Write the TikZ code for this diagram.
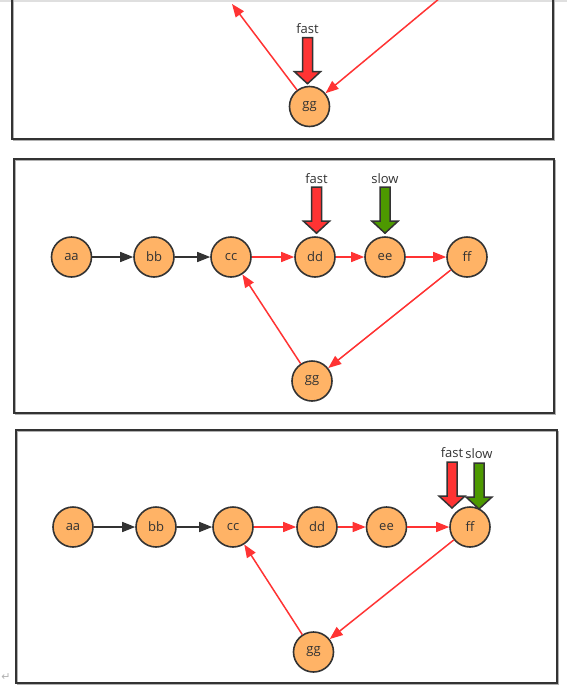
\documentclass[tikz,border=0pt]{standalone}
\usepackage{fontspec}
\setmainfont{Open Sans}
\newfontfamily\markfont{DejaVu Sans}
\usetikzlibrary{arrows.meta}
\definecolor{nodefill}{HTML}{FFB366}
\definecolor{ink}{HTML}{333333}
\definecolor{redline}{HTML}{FF3333}
\definecolor{fastred}{HTML}{FF3333}
\definecolor{slowgreen}{HTML}{4D9900}
\definecolor{shadowgrey}{HTML}{B0B0B0}
\tikzset{
  vertex/.style={circle, draw=ink, fill=nodefill, line width=1.6pt, minimum size=40pt, inner sep=0pt, text=ink, font=\fontsize{13}{15}\selectfont},
  blackedge/.style={draw=ink, line width=1.5pt, -{Triangle[length=13pt,width=10pt]}},
  rededge/.style={draw=redline, line width=1.5pt, -{Triangle[length=13pt,width=10pt]}},
  panel/.style={draw=ink, line width=2pt},
  panelshadow/.style={draw=shadowgrey, line width=1.5pt},
  lbl/.style={text=ink, inner sep=0pt, font=\fontsize{13}{15}\selectfont},
  arrowbody/.style={draw=ink, line width=1.5pt, line join=miter},
}
\newcommand{\bigarrowat}[2]{\draw[arrowbody, fill=#2, shift={(#1)}] (-5,-46) -- (5,-46) -- (5,-12) -- (13,-12) -- (0,0) -- (-13,-12) -- (-5,-12) -- cycle;}
\begin{document}
\begin{tikzpicture}[x=1pt,y=-1pt]
\useasboundingbox (0,0) rectangle (567,689);
\fill[white] (0,0) rectangle (567,689);
\begin{scope}
  \clip (0,0) rectangle (567,689);
  \draw[gray!25, line width=2pt] (0,1) -- (567,1);
  % ---------- top panel ----------
  \draw[panelshadow] (13.5,-20) rectangle (554.5,140.5);
  \draw[panel] (12,-20) rectangle (553,139);
  \node[vertex] (tgg) at (309.5,106.5) {gg};
  \coordinate (tcc) at (232,4);
  \coordinate (tff) at (440,-2);
  \draw[rededge] (tgg) -- (tcc);
  \draw[rededge] (tff) -- (tgg);
  \coordinate (ttip) at ([xshift=-2pt,yshift=2pt]tgg.north);
  \bigarrowat{ttip}{fastred}
  \node[lbl] (tfast) at ([yshift=55pt]ttip) {fast};
\end{scope}
% ---------- middle panel ----------
\draw[panelshadow] (15.5,160.5) rectangle (555.5,414.5);
\draw[panel] (14,159) rectangle (554,413);
\node[vertex] (maa) at (71.5,257) {aa};
\node[vertex] (mbb) at (154,257) {bb};
\node[vertex] (mcc) at (231,257) {cc};
\node[vertex] (mdd) at (315,257) {dd};
\node[vertex] (mee) at (385,257) {ee};
\node[vertex] (mff) at (467,257) {ff};
\node[vertex] (mgg) at (312,381) {gg};
\draw[blackedge] (maa) -- (mbb);
\draw[blackedge] (mbb) -- (mcc);
\draw[rededge] (mcc) -- (mdd);
\draw[rededge] (mdd) -- (mee);
\draw[rededge] (mee) -- (mff);
\draw[rededge] (mff) -- (mgg);
\draw[rededge] (mgg) -- (mcc);
\coordinate (mtipf) at ([xshift=1.5pt,yshift=3pt]mdd.north);
\coordinate (mtips) at ([yshift=3pt]mee.north);
\bigarrowat{mtipf}{fastred}
\bigarrowat{mtips}{slowgreen}
\node[lbl] (mfast) at ([yshift=55pt]mtipf) {fast};
\node[lbl] (mslow) at ([yshift=55pt]mtips) {slow};
% ---------- bottom panel ----------
\draw[panelshadow] (17.5,431.5) rectangle (558.5,684.5);
\draw[panel] (16,430) rectangle (557,683);
\node[vertex] (baa) at (73,527) {aa};
\node[vertex] (bbb) at (156,527) {bb};
\node[vertex] (bcc) at (233,527) {cc};
\node[vertex] (bdd) at (317,527) {dd};
\node[vertex] (bee) at (386.5,527) {ee};
\node[vertex] (bff) at (470,527) {ff};
\node[vertex] (bgg) at (313.5,652) {gg};
\draw[blackedge] (baa) -- (bbb);
\draw[blackedge] (bbb) -- (bcc);
\draw[rededge] (bcc) -- (bdd);
\draw[rededge] (bdd) -- (bee);
\draw[rededge] (bee) -- (bff);
\draw[rededge] (bff) -- (bgg);
\draw[rededge] (bgg) -- (bcc);
\coordinate (btipf) at ([xshift=-18pt,yshift=19pt]bff.center);
\coordinate (btips) at ([xshift=9pt,yshift=18pt]bff.center);
\bigarrowat{btipf}{fastred}
\bigarrowat{btips}{slowgreen}
\node[lbl] (bfast) at ([yshift=55pt]btipf) {fast};
\node[lbl] (bslow) at ([yshift=55pt]btips) {slow};
\node[text=gray!60, inner sep=0pt, font=\markfont\fontsize{11}{12}\selectfont] (pmark) at (6,677) {↵};
\end{tikzpicture}
\end{document}
